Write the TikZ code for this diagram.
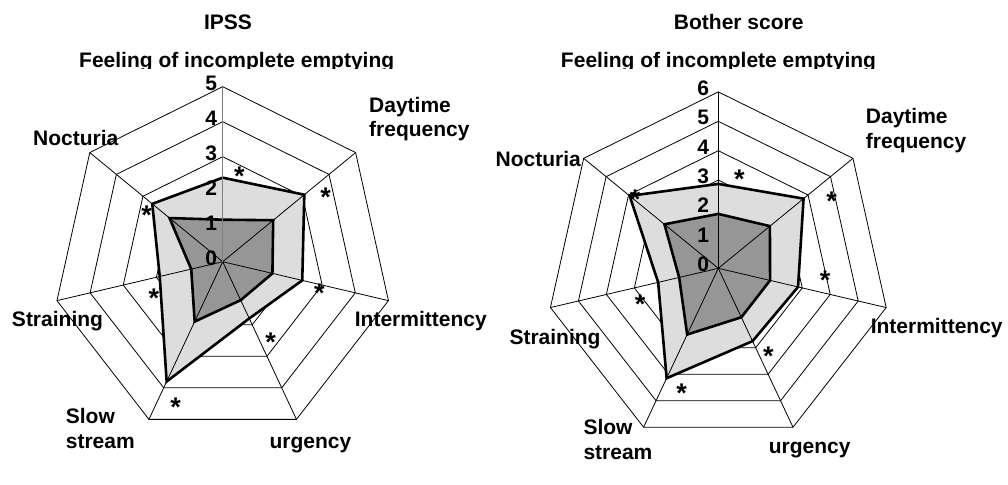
\documentclass[tikz,border=0pt]{standalone}
\usepackage{fontspec}
\setmainfont{Liberation Sans}
\usetikzlibrary{positioning}

\definecolor{lightarea}{RGB}{221,221,221}
\definecolor{darkarea}{RGB}{150,150,150}
\newcommand\chartfont{\fontsize{21}{24.5}\selectfont\bfseries}

\begin{document}
\begin{tikzpicture}[
    x=1pt, y=1pt,
    grid/.style={draw=black, line width=0.8pt},
    spoke/.style={draw=black, line width=0.8pt},
    before/.style={fill=lightarea, draw=black, line width=2.6pt},
    after/.style={fill=darkarea, draw=black, line width=2.6pt},
    lab/.style={font=\chartfont, inner sep=0pt, anchor=base},
    tick/.style={font=\chartfont, inner sep=0pt, anchor=base east},
    sig/.style={font=\fontsize{27}{27}\selectfont\bfseries, inner sep=0pt, anchor=base, yshift=-15.5pt}
]
\useasboundingbox (0,0) rectangle (1008,484);

% IPSS chart
\begin{scope}[shift={(222.7,222.3)}, x=34pt, y=35pt]
  \foreach \r in {1,...,5}
    \draw[grid] (90:\r) \foreach \i in {1,...,6}{ -- ({90-\i*360/7}:\r) } -- cycle;
  \foreach \v [count=\i from 0] in {2.4,3.07,2.4,1.8,3.8,1.9,2.65}
    \coordinate (lb\i) at ({90-\i*360/7}:\v);
  \foreach \v [count=\i from 0] in {1.2,1.9,1.5,1.22,1.9,0.95,2.0}
    \coordinate (la\i) at ({90-\i*360/7}:\v);
  \draw[before] (lb0) -- (lb1) -- (lb2) -- (lb3) -- (lb4) -- (lb5) -- (lb6) -- cycle;
  \draw[after] (la0) -- (la1) -- (la2) -- (la3) -- (la4) -- (la5) -- (la6) -- cycle;
  \foreach \i in {1,...,6}
    \draw[spoke] (0,0) -- ({90-\i*360/7}:5);
  \draw[spoke, draw=black!50] (0,0) -- (90:5);
  \foreach \k in {0,...,5}
    \node[tick, xshift=-5.5pt, yshift=-4pt] (lt\k) at (0,\k) {\k};
\end{scope}

% Bother score chart
\begin{scope}[shift={(718.3,215.7)}, x=28.7pt, y=29.4pt]
  \foreach \r in {1,...,6}
    \draw[grid] (90:\r) \foreach \i in {1,...,6}{ -- ({90-\i*360/7}:\r) } -- cycle;
  \foreach \v [count=\i from 0] in {2.87,3.8,2.85,2.75,4.15,2.15,3.95}
    \coordinate (rb\i) at ({90-\i*360/7}:\v);
  \foreach \v [count=\i from 0] in {1.85,2.3,1.85,1.85,2.5,1.4,2.4}
    \coordinate (ra\i) at ({90-\i*360/7}:\v);
  \draw[before] (rb0) -- (rb1) -- (rb2) -- (rb3) -- (rb4) -- (rb5) -- (rb6) -- cycle;
  \draw[after] (ra0) -- (ra1) -- (ra2) -- (ra3) -- (ra4) -- (ra5) -- (ra6) -- cycle;
  \foreach \i in {0,...,6}
    \draw[spoke] (0,0) -- ({90-\i*360/7}:6);
  \foreach \k in {0,...,6}
    \node[tick, xshift=-9pt, yshift=-3.5pt] (rt\k) at (0,\k) {\k};
\end{scope}

% titles
\node[lab] (ipss) at (228,454.7) {IPSS};
\node[lab] (bother) at (738.7,454.7) {Bother score};
\begin{scope}
  \clip (0,415.5) rectangle (1008,484);
  \node[lab] (lfeel) at (236.7,416) {Feeling of incomplete emptying};
  \node[lab] (rfeel) at (718.5,416) {Feeling of incomplete emptying};
\end{scope}

% axis labels, left
\node[lab] (lnoct) at (75.8,338.3) {Nocturia};
\node[lab, anchor=base west, align=left] (lday) at (369,347.3) {Daytime\\frequency};
\node[lab] (linter) at (420.8,157.3) {Intermittency};
\node[lab] (lurg) at (310.5,35.7) {urgency};
\node[lab, anchor=base west, align=left] (lslow) at (65.7,35.7) {Slow\\stream};
\node[lab] (lstrain) at (57.5,157.3) {Straining};

% axis labels, right
\node[lab, anchor=base east] (rnoct) at (581,317.3) {Nocturia};
\node[lab, anchor=base west, align=left] (rday) at (865.7,335.7) {Daytime\\frequency};
\node[lab] (rinter) at (936.7,150.7) {Intermittency};
\node[lab] (rurg) at (809.7,30.7) {urgency};
\node[lab, anchor=base west, align=left] (rslow) at (583.3,24.7) {Slow\\stream};
\node[lab] (rstrain) at (555,139) {Straining};

% significance marks
\node[sig] (ls0) at (239.3,314) {*};
\node[sig] (ls1) at (325.5,292.8) {*};
\node[sig] (ls2) at (319.3,197.3) {*};
\node[sig] (ls3) at (270.7,148) {*};
\node[sig] (ls4) at (175.7,83.3) {*};
\node[sig] (ls5) at (154,192.3) {*};
\node[sig] (ls6) at (146.7,274.7) {*};
\node[sig] (rs0) at (739.3,311.3) {*};
\node[sig] (rs1) at (831.7,289) {*};
\node[sig] (rs2) at (825,209.7) {*};
\node[sig] (rs3) at (768.3,134) {*};
\node[sig] (rs4) at (681.7,97.3) {*};
\node[sig] (rs5) at (640,186.3) {*};
\node[sig] (rs6) at (635,291.3) {*};

\end{tikzpicture}
\end{document}
